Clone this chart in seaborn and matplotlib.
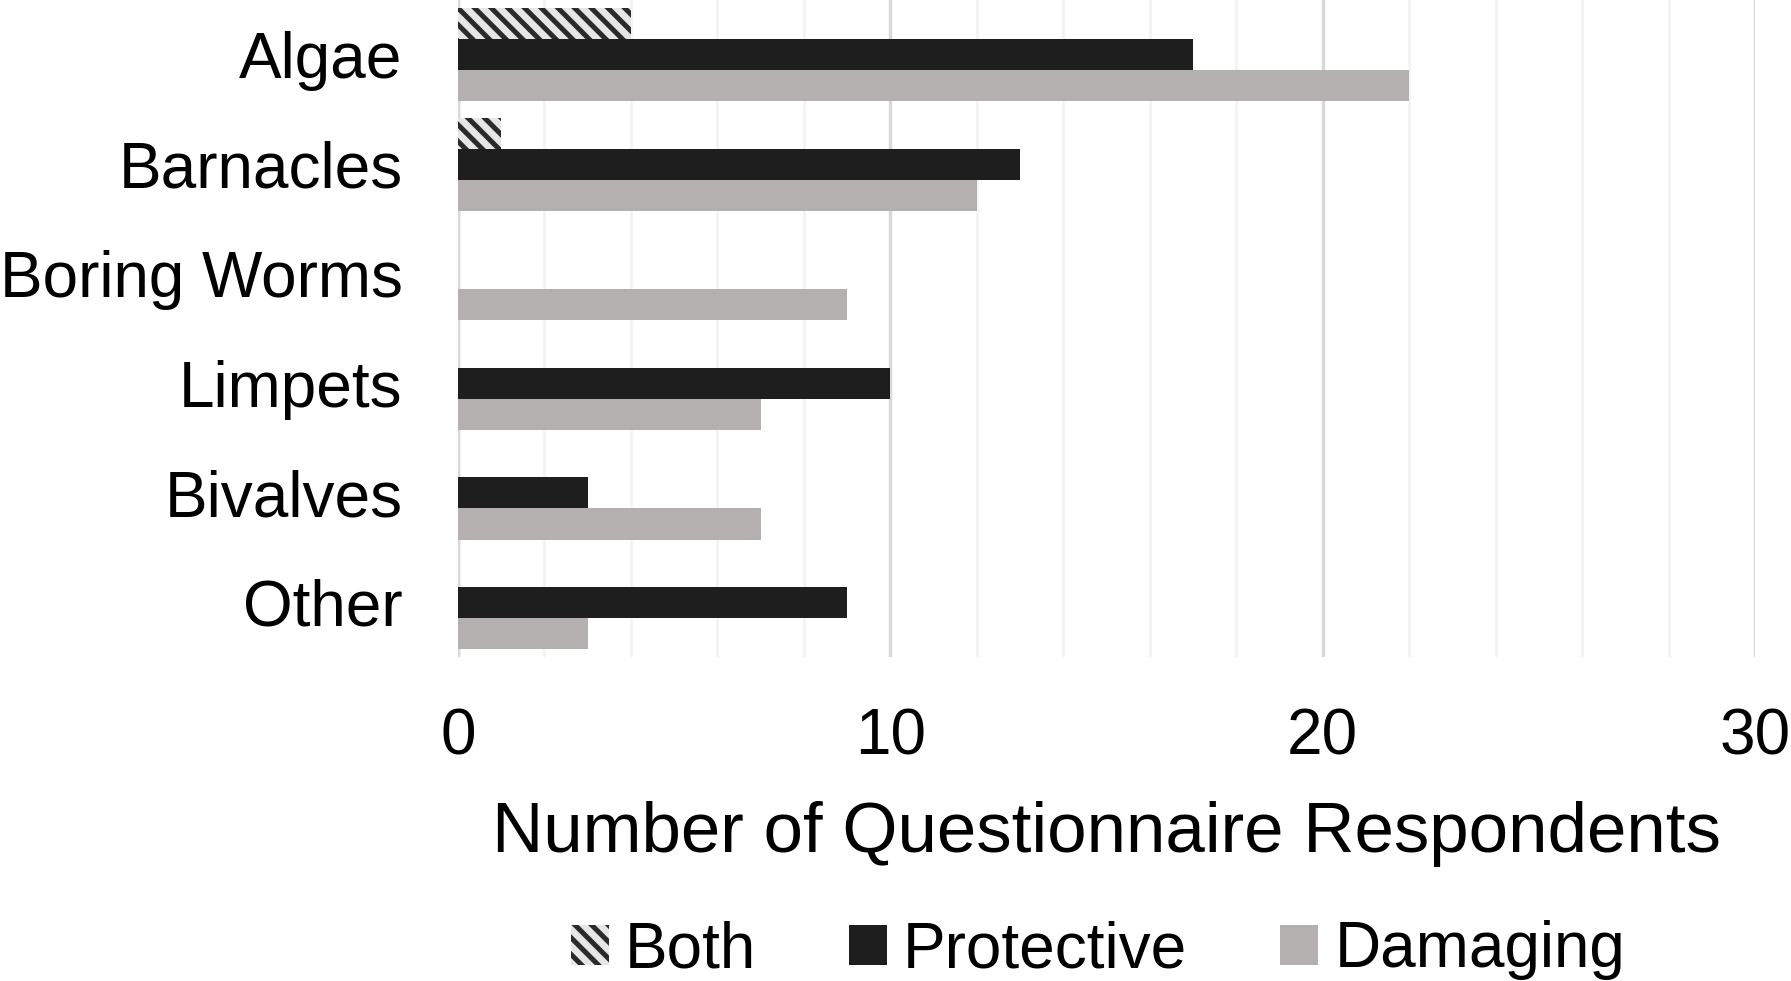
import numpy as np
import pandas as pd
import seaborn as sns
import matplotlib.pyplot as plt
from matplotlib.patches import Patch
from matplotlib.ticker import MultipleLocator

# ── data ────────────────────────────────────────────────────────────────
categories = ["Algae", "Barnacles", "Boring Worms", "Limpets", "Bivalves", "Other"]
both = [4, 1, 0, 0, 0, 0]
protective = [17, 13, 0, 10, 3, 9]
damaging = [22, 12, 9, 7, 7, 3]
series = ["Both", "Protective", "Damaging"]

df = pd.DataFrame({
    "Organism": categories * 3,
    "Type": np.repeat(series, len(categories)),
    "Count": both + protective + damaging,
})

# ── style ───────────────────────────────────────────────────────────────
sns.set_theme(style="white")
plt.rcParams["font.family"] = ["Liberation Sans", "DejaVu Sans"]
plt.rcParams["hatch.linewidth"] = 3.6

colors = {"Both": "#e6e6e6", "Protective": "#1e1e1e", "Damaging": "#b4b0b0"}
HATCH = "\\\\"

fig = plt.figure(figsize=(17.91, 9.81), dpi=100)
ax = fig.add_axes([0.2557, 0.330, 0.7243, 0.670])

sns.barplot(
    data=df, y="Organism", x="Count", hue="Type",
    hue_order=series, order=categories, orient="h",
    palette=colors, width=0.85, saturation=1, ax=ax, legend=False,
)

# hatch the "Both" bars
for bar in ax.containers[0]:
    bar.set_hatch(HATCH)
    bar.set_edgecolor("#2a2a2a")
    bar.set_linewidth(0)
for cont in ax.containers[1:]:
    for bar in cont:
        bar.set_linewidth(0)

ax.set_xlim(0, 30)
ax.set_ylim(5.5, -0.5)
ax.xaxis.set_major_locator(MultipleLocator(10))
ax.xaxis.set_minor_locator(MultipleLocator(2))
ax.grid(axis="x", which="major", color="#d9d9d9", linewidth=2.5)
ax.grid(axis="x", which="minor", color="#f3f3f3", linewidth=2)
ax.set_axisbelow(True)
for s in ax.spines.values():
    s.set_visible(False)
ax.axvline(0, color="#d9d9d9", linewidth=2.5, zorder=0)

ax.tick_params(axis="x", which="both", length=0, labelsize=46, pad=36,
               colors="black", labelcolor="black")
ax.tick_params(axis="y", length=0, labelsize=46, pad=40,
               colors="black", labelcolor="black")
ax.set_ylabel("")
ax.set_xlabel("Number of Questionnaire Respondents", fontsize=51,
              labelpad=24, color="black")

handles = [
    Patch(facecolor=colors["Both"], edgecolor="#2a2a2a", hatch=HATCH, linewidth=0, label="Both"),
    Patch(facecolor=colors["Protective"], linewidth=0, label="Protective"),
    Patch(facecolor=colors["Damaging"], linewidth=0, label="Damaging"),
]
fig.legend(
    handles=handles, loc="lower center", bbox_to_anchor=(0.613, -0.058),
    ncol=3, frameon=False, fontsize=46, handlelength=0.6, handleheight=0.6,
    handletextpad=0.25, columnspacing=1.45, labelcolor="black",
)

fig.savefig("out.png", dpi=100)
